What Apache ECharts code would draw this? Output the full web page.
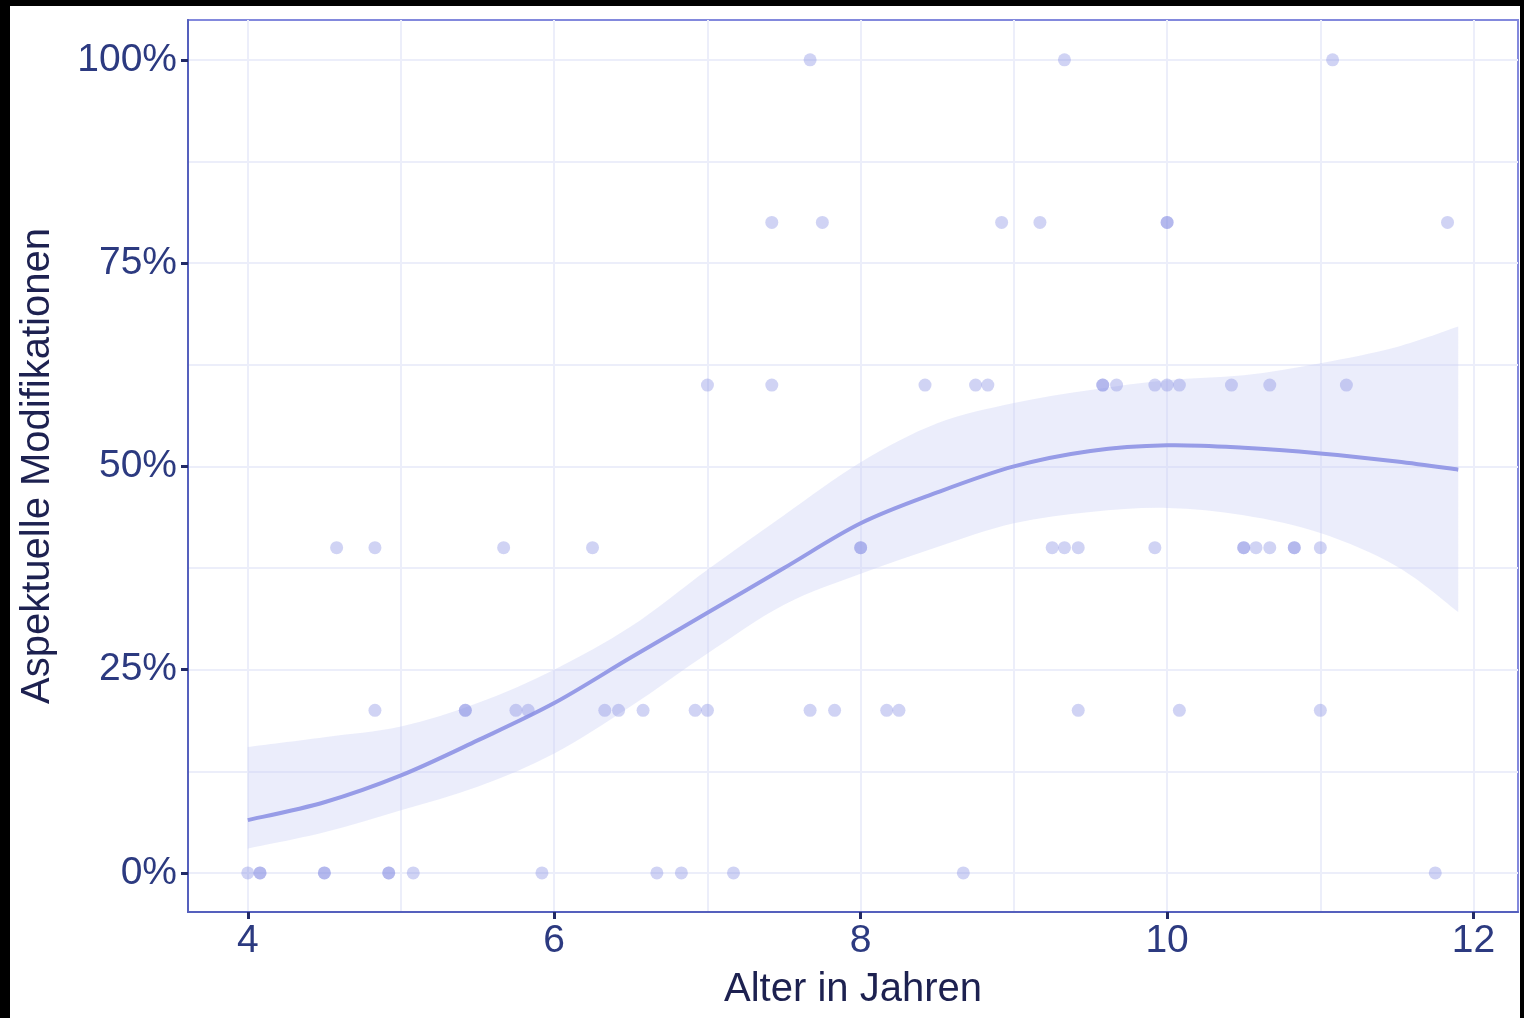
<!DOCTYPE html>
<html>
<head>
<meta charset="utf-8">
<script src="https://cdn.jsdelivr.net/npm/echarts@6/dist/echarts.min.js"></script>
<style>
  html, body { margin: 0; padding: 0; background: #000; }
  #chart {
    position: absolute;
    left: 10px;
    top: 6px;
    width: 1510px;
    height: 1012px;
    background: #fff;
  }
</style>
</head>
<body>
<div id="chart"></div>
<script>
// Beobachtungen: Alter (Jahre) und Anteil aspektueller Modifikationen
const pointAge = [
    4.0, 4.08, 4.08, 4.5, 4.5, 4.92, 4.92, 5.08, 5.92, 6.67, 6.83, 7.17, 8.67, 11.75,
    4.83, 5.42, 5.42, 5.75, 5.83, 6.33, 6.42, 6.58, 6.92, 7.0, 7.67, 7.83, 8.17, 8.25, 9.42, 10.08, 11.0,
    4.58, 4.83, 5.67, 6.25, 8.0, 8.0, 9.25, 9.33, 9.42, 9.92, 10.5, 10.5, 10.58, 10.67, 10.83, 10.83, 11.0,
    7.0, 7.42, 8.42, 8.75, 8.83, 9.58, 9.58, 9.67, 9.92, 10.0, 10.08, 10.42, 10.67, 11.17,
    7.42, 7.75, 8.92, 9.17, 10.0, 10.0, 11.83,
    7.67, 9.33, 11.08
]
const pointShare = [
    0, 0, 0, 0, 0, 0, 0, 0, 0, 0, 0, 0, 0, 0,
    0.2, 0.2, 0.2, 0.2, 0.2, 0.2, 0.2, 0.2, 0.2, 0.2, 0.2, 0.2, 0.2, 0.2, 0.2, 0.2, 0.2,
    0.4, 0.4, 0.4, 0.4, 0.4, 0.4, 0.4, 0.4, 0.4, 0.4, 0.4, 0.4, 0.4, 0.4, 0.4, 0.4, 0.4,
    0.6, 0.6, 0.6, 0.6, 0.6, 0.6, 0.6, 0.6, 0.6, 0.6, 0.6, 0.6, 0.6, 0.6,
    0.8, 0.8, 0.8, 0.8, 0.8, 0.8, 0.8,
    1, 1, 1
]

// Glättungskurve mit Konfidenzband
const fitAge = [4, 4.5, 5, 5.5, 6, 6.5, 7, 7.5, 8, 8.5, 9, 9.5, 10, 10.5, 11, 11.5, 11.9]
const fitMean = [0.065, 0.087, 0.12, 0.163, 0.209, 0.265, 0.32, 0.375, 0.43, 0.468, 0.5, 0.519, 0.526, 0.523, 0.516, 0.506, 0.496]
const fitUpper = [0.155, 0.167, 0.18, 0.209, 0.25, 0.303, 0.373, 0.44, 0.505, 0.553, 0.578, 0.594, 0.606, 0.612, 0.627, 0.647, 0.672]
const fitLower = [0.03, 0.05, 0.077, 0.106, 0.147, 0.205, 0.27, 0.33, 0.368, 0.401, 0.43, 0.444, 0.449, 0.44, 0.418, 0.377, 0.321]

const xTicks = [4, 6, 8, 10, 12]
const xMinorTicks = [5, 7, 9, 11]
const yTicks = [0, 0.25, 0.5, 0.75, 1]
const yMinorTicks = [0.125, 0.375, 0.625, 0.875]

const labelColor = '#2c3a80'
const titleColor = '#1d2150'
const gridColor = '#eceefa'
const axisColor = '#5560bd'
const tickColor = '#222a66'
const font = "'Liberation Sans', Arial, sans-serif"

const chart = echarts.init(document.getElementById('chart'))

// weiche Kurve (Catmull-Rom -> Bezier) durch Pixelpunkte
const splineTo = function (pts) {
    let d = ''
    const n = pts.length
    for (let i = 0; i < n - 1; i++) {
        const p0 = pts[Math.max(i - 1, 0)]
        const p1 = pts[i]
        const p2 = pts[i + 1]
        const p3 = pts[Math.min(i + 2, n - 1)]
        const c1 = [p1[0] + (p2[0] - p0[0]) / 6, p1[1] + (p2[1] - p0[1]) / 6]
        const c2 = [p2[0] - (p3[0] - p1[0]) / 6, p2[1] - (p3[1] - p1[1]) / 6]
        d += 'C' + c1[0] + ',' + c1[1] + ' ' + c2[0] + ',' + c2[1] + ' ' + p2[0] + ',' + p2[1]
    }
    return d
}

// Konfidenzband: obere Grenze vorwärts, untere rückwärts
const renderBand = function (params, api) {
    const up = fitAge.map((a, i) => api.coord([a, fitUpper[i]]))
    const lo = fitAge.map((a, i) => api.coord([a, fitLower[i]])).reverse()
    const d = 'M' + up[0][0] + ',' + up[0][1] + splineTo(up)
        + 'L' + lo[0][0] + ',' + lo[0][1] + splineTo(lo) + 'Z'
    return {
        type: 'path',
        shape: {pathData: d},
        style: {fill: 'rgba(200, 205, 245, 0.36)'},
        silent: true
    }
}

// Regressionslinie
const renderFit = function (params, api) {
    const pts = fitAge.map((a, i) => api.coord([a, fitMean[i]]))
    return {
        type: 'path',
        shape: {pathData: 'M' + pts[0][0] + ',' + pts[0][1] + splineTo(pts)},
        style: {fill: null, stroke: '#979ce7', lineWidth: 4},
        silent: true
    }
}

const option = {
    animation: false,
    grid: {
        left: 176,
        right: 2,
        top: 14,
        bottom: 106,
        show: true,
        borderColor: '#8389dd',
        borderWidth: 2,
        backgroundColor: 'transparent'
    },
    xAxis: [
        {
            type: 'value',
            min: 3.61,
            max: 12.29,
            name: 'Alter in Jahren',
            nameLocation: 'middle',
            nameGap: 58,
            nameTextStyle: {color: titleColor, fontSize: 40, fontFamily: font},
            axisLine: {show: true, onZero: false, lineStyle: {color: axisColor, width: 2}},
            axisTick: {show: true, inside: false, length: 7, customValues: xTicks, lineStyle: {color: tickColor, width: 3}},
            axisLabel: {
                customValues: xTicks,
                color: labelColor,
                fontSize: 39,
                fontFamily: font,
                margin: 10
            },
            splitLine: {show: true, lineStyle: {color: gridColor, width: 2}},
            z: 5
        },
        {
            type: 'value',
            min: 3.61,
            max: 12.29,
            position: 'bottom',
            axisLine: {show: false, onZero: false},
            axisTick: {show: false, customValues: xMinorTicks},
            axisLabel: {show: false},
            splitLine: {show: true, lineStyle: {color: gridColor, width: 2}}
        }
    ],
    yAxis: [
        {
            type: 'value',
            min: -0.048,
            max: 1.049,
            name: 'Aspektuelle Modifikationen',
            nameLocation: 'middle',
            nameGap: 130,
            nameTextStyle: {color: titleColor, fontSize: 40, fontFamily: font},
            axisLine: {show: true, onZero: false, lineStyle: {color: axisColor, width: 2}},
            axisTick: {show: true, inside: false, length: 7, customValues: yTicks, lineStyle: {color: tickColor, width: 3}},
            axisLabel: {
                customValues: yTicks,
                color: labelColor,
                fontSize: 39,
                fontFamily: font,
                margin: 11,
                formatter: v => Math.round(v * 100) + '%'
            },
            splitLine: {show: true, lineStyle: {color: gridColor, width: 2}},
            z: 5
        },
        {
            type: 'value',
            min: -0.048,
            max: 1.049,
            position: 'left',
            axisLine: {show: false, onZero: false},
            axisTick: {show: false, customValues: yMinorTicks},
            axisLabel: {show: false},
            splitLine: {show: true, lineStyle: {color: gridColor, width: 2}}
        }
    ],
    series: [
        {
            type: 'custom',
            renderItem: renderBand,
            data: [0],
            silent: true,
            z: 10
        },
        {
            type: 'custom',
            renderItem: renderFit,
            data: [0],
            silent: true,
            z: 11
        },
        {
            type: 'scatter',
            data: pointAge.map((a, i) => [a, pointShare[i]]),
            symbolSize: 13,
            itemStyle: {color: 'rgba(138, 144, 228, 0.5)'},
            z: 12
        }
    ]
}

chart.setOption(option)
window.addEventListener('resize', function () {
    chart.resize()
})
</script>
</body>
</html>
